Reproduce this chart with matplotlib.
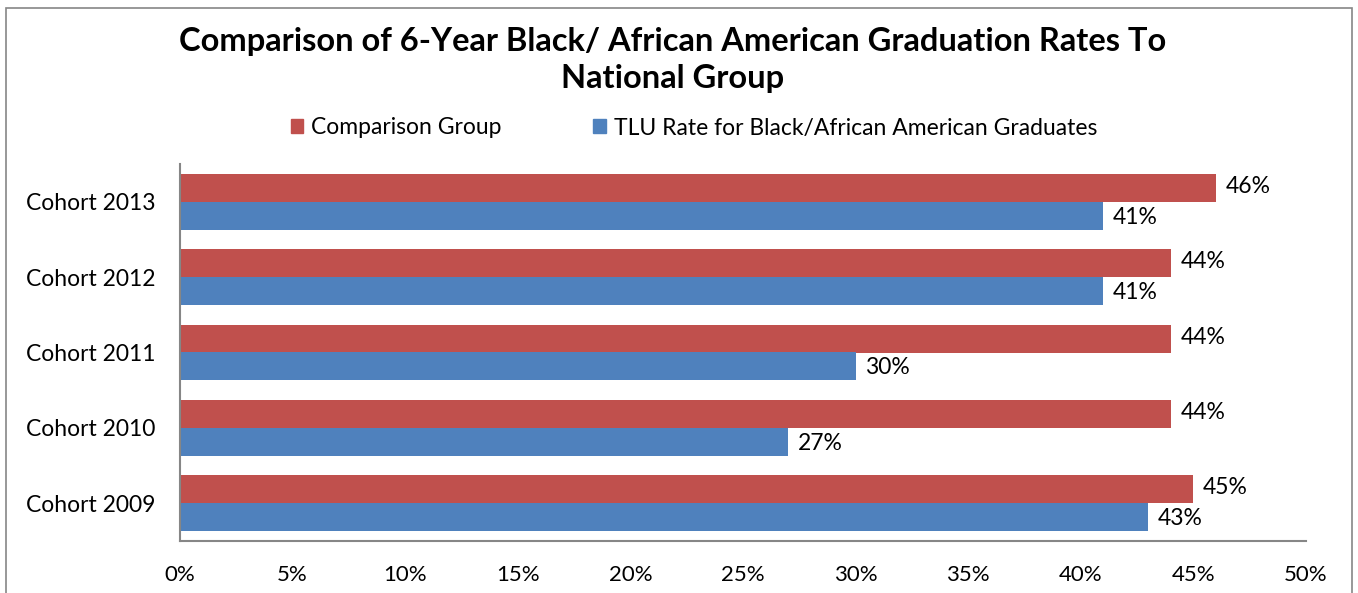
import matplotlib.pyplot as plt
from matplotlib.patches import Rectangle, Patch
import numpy as np

# Data
cohorts = ['Cohort 2009', 'Cohort 2010', 'Cohort 2011', 'Cohort 2012', 'Cohort 2013']
comparison = [45, 44, 44, 44, 46]
tlu_rate = [43, 27, 30, 41, 41]
xticks = [0, 5, 10, 15, 20, 25, 30, 35, 40, 45, 50]

red = '#C0504D'
blue = '#4F81BD'
gray = '#868686'

plt.rcParams['font.family'] = ['Lato', 'DejaVu Sans']

fig = plt.figure(figsize=(13.58, 5.93), dpi=100)
W, H = 1358, 593
# plot area in pixels: x 180..1306, y 164..541
ax = fig.add_axes([180 / W, 1 - 541 / H, (1306 - 180) / W, (541 - 164) / H])

# chart border
fig.patches.append(Rectangle((6 / W, -0.05), (1352 - 6) / W, 1 - 8 / H + 0.05,
                             transform=fig.transFigure, fill=False,
                             edgecolor=gray, linewidth=1.2))

y = np.arange(len(cohorts))
h = 0.37
ax.barh(y + h / 2, comparison, height=h, color=red, label='Comparison Group')
ax.barh(y - h / 2, tlu_rate, height=h, color=blue,
        label='TLU Rate for Black/African American Graduates')

for i in range(len(cohorts)):
    ax.text(comparison[i] + 0.42, y[i] + h / 2 + 0.02, '%d%%' % comparison[i],
            va='center', ha='left', fontsize=16.5)
    ax.text(tlu_rate[i] + 0.42, y[i] - h / 2 - 0.02, '%d%%' % tlu_rate[i],
            va='center', ha='left', fontsize=16.5)

ax.set_xlim(0, 50)
ax.set_ylim(-0.5, len(cohorts) - 0.5)
ax.set_xticks(xticks)
ax.set_xticklabels(['%d%%' % v for v in xticks], fontsize=16)
ax.set_yticks(y)
ax.set_yticklabels(cohorts, fontsize=16.5)
ax.tick_params(axis='x', length=0, pad=17)
ax.tick_params(axis='y', length=0, pad=18)
for s in ['top', 'right']:
    ax.spines[s].set_visible(False)
for s in ['left', 'bottom']:
    ax.spines[s].set_color(gray)
    ax.spines[s].set_linewidth(1.5)

fig.text(0.495, 1 - 60 / H,
         'Comparison of 6-Year Black/ African American Graduation Rates To\nNational Group',
         ha='center', va='center', fontsize=23.5, fontweight='bold', linespacing=1.33)

handles = [Patch(color=red), Patch(color=blue)]
fig.legend(handles, ['Comparison Group', 'TLU Rate for Black/African American Graduates'],
           loc='center', bbox_to_anchor=(0.511, 1 - 128 / H), ncol=2, frameon=False,
           fontsize=16.5, handlelength=0.55, handleheight=0.55, handletextpad=0.35,
           columnspacing=4.0)

fig.savefig('out.png', dpi=100)
